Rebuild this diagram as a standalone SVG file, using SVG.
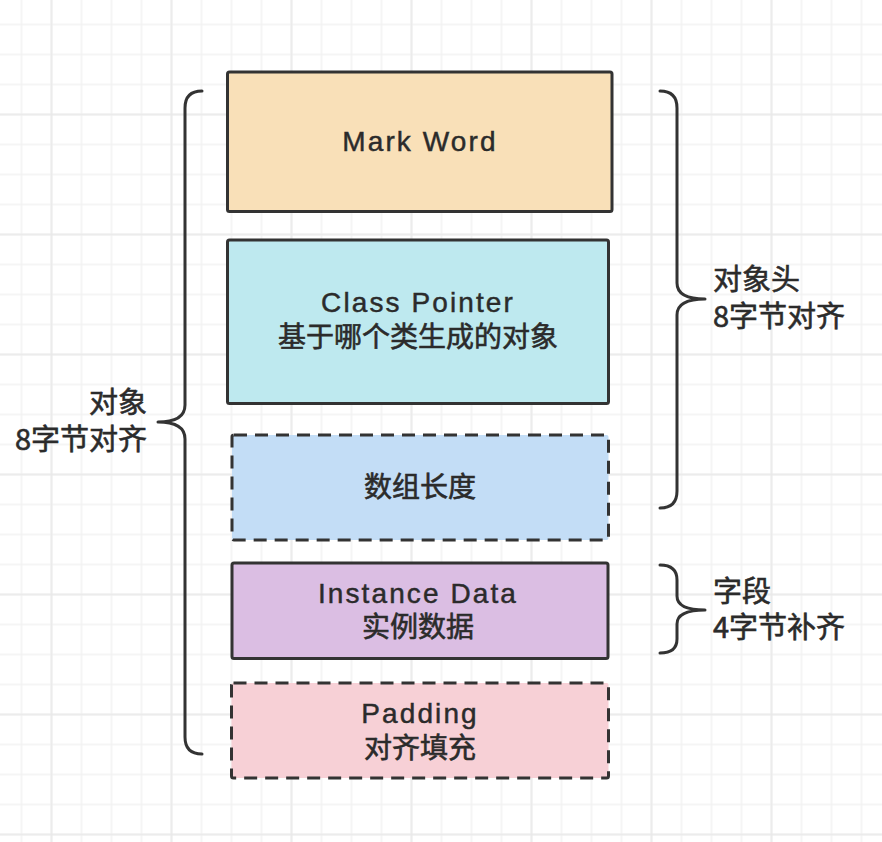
<svg xmlns="http://www.w3.org/2000/svg" width="882" height="842" viewBox="0 0 882 842">
<defs>
<pattern id="minor" x="6.5" y="9.5" width="30" height="30" patternUnits="userSpaceOnUse"><path d="M15 0V30M0 15H30" stroke="#f2f2f2" stroke-width="1.5" fill="none"/></pattern>
<pattern id="major" x="-8.5" y="54.5" width="120" height="120" patternUnits="userSpaceOnUse"><path d="M60 0V120M0 60H120" stroke="#e9e9e9" stroke-width="1.5" fill="none"/></pattern>
</defs>
<style>
.box{stroke:#333;stroke-width:3}
.dash{stroke-dasharray:13 8}
.brace{fill:none;stroke:#333;stroke-width:3;stroke-linecap:round;stroke-linejoin:round}
text{font-family:"Liberation Sans","Noto Sans CJK SC",sans-serif;fill:#2b2b2b;stroke:#2b2b2b;stroke-width:0.45px;font-size:28px}
.lat{letter-spacing:2.1px}
.cjk{font-family:"Noto Sans CJK SC","Liberation Sans",sans-serif;font-size:28px;stroke-width:0.6px}
.side{font-size:29px}
.mid{text-anchor:middle}
.end{text-anchor:end}
</style>
<rect width="882" height="842" fill="#fff"/>
<rect width="882" height="842" fill="url(#minor)"/>
<rect width="882" height="842" fill="url(#major)"/>

<g id="connectors">
<path id="brace-object" class="brace" d="M202 91Q185 91 185 108V405Q185 422 158 422Q185 422 185 439V737Q185 754 202 754"/>
<path id="brace-header" class="brace" d="M660 91Q677 91 677 108V283Q677 299 705 299Q677 299 677 315V491Q677 508 660 508"/>
<path id="brace-field" class="brace" d="M660 565Q677 565 677 580V596Q677 610 705 610Q677 610 677 624V639Q677 653 660 653"/>
</g>

<g id="mark-word">
<rect class="box" x="227.5" y="72" width="384.5" height="139.5" rx="2" fill="#f9e0b8"/>
<text class="lat mid" x="420" y="151">Mark Word</text>
</g>
<g id="class-pointer">
<rect class="box" x="227.5" y="240" width="381" height="163.5" rx="2" fill="#bee9ef"/>
<text class="lat mid" x="418" y="312">Class Pointer</text>
<text class="cjk mid" x="418" y="347">基于哪个类生成的对象</text>
</g>
<g id="array-length">
<rect class="box dash" x="232" y="435" width="376.5" height="105" rx="2" fill="#c3ddf6"/>
<text class="cjk mid" x="420" y="497">数组长度</text>
</g>
<g id="instance-data">
<rect class="box" x="232" y="563" width="376" height="95.5" rx="2" fill="#dbbee3"/>
<text class="lat mid" x="418" y="603">Instance Data</text>
<text class="cjk mid" x="418" y="637">实例数据</text>
</g>
<g id="padding">
<rect class="box dash" x="231.5" y="683" width="377" height="95" rx="2" fill="#f7d0d6"/>
<text class="lat mid" x="420" y="723">Padding</text>
<text class="cjk mid" x="420" y="758">对齐填充</text>
</g>

<g id="label-object">
<text class="cjk side end" x="147" y="413">对象</text>
<text class="cjk side end" x="147" y="450">8字节对齐</text>
</g>
<g id="label-header">
<text class="cjk side" x="713" y="290">对象头</text>
<text class="cjk side" x="713" y="327">8字节对齐</text>
</g>
<g id="label-field">
<text class="cjk side" x="713" y="602">字段</text>
<text class="cjk side" x="713" y="638">4字节补齐</text>
</g>
</svg>
